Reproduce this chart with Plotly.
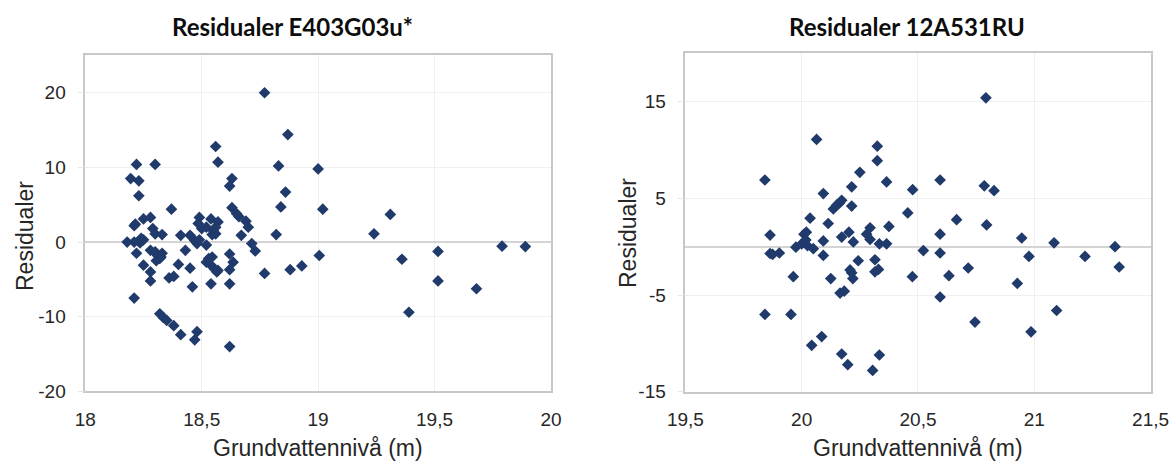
import plotly.graph_objects as go

# ---- Left chart data: Residualer E403G03u* ----
left_title = "Residualer E403G03u*"
left_x = [18.18, 18.195, 18.23, 18.22, 18.30, 18.23, 18.21, 18.215, 18.25, 18.28,
          18.29, 18.30, 18.33, 18.24, 18.25, 18.21, 18.235, 18.22, 18.28, 18.30,
          18.31, 18.32, 18.305, 18.25, 18.28, 18.28, 18.21, 18.32, 18.335, 18.35,
          18.38, 18.41, 18.48, 18.47, 18.62, 18.37, 18.36, 18.38, 18.40, 18.43,
          18.45, 18.46, 18.54, 18.62, 18.41, 18.45, 18.47, 18.48, 18.49, 18.49,
          18.485, 18.50, 18.52, 18.52, 18.54, 18.57, 18.56, 18.56, 18.52, 18.53,
          18.54, 18.555, 18.565, 18.62, 18.635, 18.62, 18.67, 18.69, 18.70, 18.715,
          18.73, 18.77, 18.82, 18.56, 18.57, 18.63, 18.62, 18.63, 18.65, 18.66,
          18.77, 18.87, 18.83, 19.00, 18.86, 18.84, 19.02, 19.31, 19.24, 19.005,
          19.36, 18.88, 18.93, 19.39, 19.515, 19.515, 19.68, 19.79, 19.89, 18.545,
          18.55, 18.545, 18.57, 18.33, 18.325]
left_y = [0.0, 8.5, 8.2, 10.4, 10.4, 6.2, 2.2, 2.4, 3.1, 3.3,
          1.8, 1.1, 1.0, 0.5, 0.3, 0.0, -0.1, -1.5, -1.1, -1.3,
          -1.8, -2.2, -2.5, -3.1, -4.0, -5.2, -7.5, -9.6, -10.1, -10.5,
          -11.2, -12.4, -12.0, -13.1, -14.0, 4.4, -4.8, -4.6, -3.0, -1.1,
          -3.5, -6.0, -5.6, -5.6, 0.9, 0.9, 0.2, -0.2, 0.3, 3.3,
          2.5, 1.8, 2.0, -0.4, 3.1, 2.7, 2.0, 1.1, -2.7, -2.2,
          -3.1, -3.6, -4.0, -1.6, -2.7, -3.7, 0.9, 2.8, 2.0, -0.2,
          -1.2, -4.2, 1.0, 12.8, 10.7, 8.5, 7.5, 4.6, 3.8, 3.4,
          20.0, 14.4, 10.2, 9.8, 6.7, 4.7, 4.4, 3.7, 1.1, -1.8,
          -2.3, -3.7, -3.2, -9.4, -1.25, -5.2, -6.25, -0.55, -0.6, -2.0,
          1.5, 1.0, -3.8, -1.5, -2.0]
left_xticks = [18, 18.5, 19, 19.5, 20]
left_xticktext = ["18", "18,5", "19", "19,5", "20"]
left_yticks = [-20, -10, 0, 10, 20]
left_yticktext = ["-20", "-10", "0", "10", "20"]

# ---- Right chart data: Residualer 12A531RU ----
right_title = "Residualer 12A531RU"
right_x = [19.842, 19.864, 19.864, 19.875, 19.904, 19.842, 19.954, 19.964, 19.975, 20.0,
           20.01, 20.018, 20.025, 20.02, 20.036, 20.05, 20.043, 20.064, 20.086, 20.093,
           20.093, 20.093, 20.114, 20.125, 20.136, 20.15, 20.162, 20.172, 20.172, 20.165,
           20.183, 20.172, 20.198, 20.203, 20.215, 20.215, 20.222, 20.243, 20.208, 20.215,
           20.22, 20.25, 20.279, 20.294, 20.294, 20.305, 20.315, 20.315, 20.33, 20.325,
           20.325, 20.334, 20.334, 20.365, 20.365, 20.375, 20.456, 20.477, 20.476, 20.523,
           20.595, 20.595, 20.595, 20.595, 20.633, 20.666, 20.716, 20.745, 20.785, 20.792,
           20.795, 20.827, 20.927, 20.946, 20.977, 20.986, 21.085, 21.096, 21.218, 21.347,
           21.365]
right_y = [6.9, 1.2, -0.7, -0.8, -0.65, -7.0, -7.0, -3.1, -0.05, 0.3,
           1.3, 0.7, 0.1, 1.5, 2.95, -0.2, -10.2, 11.1, -9.3, 5.5,
           0.6, -0.9, 2.4, -3.3, 3.9, 4.3, 4.5, 4.8, 1.0, -4.8,
           -4.6, -11.1, -12.2, 1.5, 6.2, 4.2, 0.5, -1.45, -2.4, -2.7,
           -3.3, 7.7, 1.3, 0.75, 1.95, -12.8, -1.35, -2.6, -2.35, 10.4,
           8.9, 0.3, -11.2, 6.7, 0.3, 2.1, 3.5, 5.9, -3.1, -0.4,
           6.9, 1.3, -0.65, -5.2, -3.0, 2.8, -2.2, -7.8, 6.3, 15.4,
           2.25, 5.8, -3.8, 0.9, -1.0, -8.8, 0.4, -6.6, -1.0, 0.0,
           -2.1]
right_xticks = [19.5, 20, 20.5, 21, 21.5]
right_xticktext = ["19,5", "20", "20,5", "21", "21,5"]
right_yticks = [-15, -5, 5, 15]
right_yticktext = ["-15", "-5", "5", "15"]

x_title = "Grundvattennivå (m)"
y_title = "Residualer"

MARKER_COLOR = "#1F3A6B"
TICK_FONT = dict(family="Liberation Sans, Arial, sans-serif", size=19, color="#262626")
AXT_FONT = dict(family="Liberation Sans, Arial, sans-serif", size=23, color="#262626")
TITLE_FONT = dict(family="Lato, Open Sans, sans-serif", size=24, color="#0d0d0d")

fig = go.Figure()
fig.add_trace(go.Scatter(x=left_x, y=left_y, mode="markers", xaxis="x", yaxis="y",
                         marker=dict(symbol="diamond", size=9, color=MARKER_COLOR, line=dict(width=0)),
                         showlegend=False, hoverinfo="x+y"))
fig.add_trace(go.Scatter(x=right_x, y=right_y, mode="markers", xaxis="x2", yaxis="y2",
                         marker=dict(symbol="diamond", size=9, color=MARKER_COLOR, line=dict(width=0)),
                         showlegend=False, hoverinfo="x+y"))

common_x = dict(showline=True, linecolor="#c8c8c8", linewidth=1.5, mirror=True,
                showgrid=True, gridcolor="#efefef", gridwidth=1, zeroline=False,
                ticks="", tickfont=TICK_FONT, ticklabelstandoff=10, fixedrange=True,
                automargin=False)
common_y = dict(showline=True, linecolor="#c8c8c8", linewidth=1.5, mirror=True,
                showgrid=True, gridcolor="#efefef", gridwidth=1,
                zeroline=True, zerolinecolor="#d4d4d4", zerolinewidth=1.5,
                ticks="outside", ticklen=6, tickcolor="#e6e6e6",
                tickfont=TICK_FONT, ticklabelstandoff=8, fixedrange=True,
                automargin=False)

L_X0, L_X1 = 0.0727, 0.4697
R_X0, R_X1 = 0.5843, 0.9809

fig.update_layout(
    width=1173, height=461,
    margin=dict(l=0, r=0, t=0, b=0, autoexpand=False),
    paper_bgcolor="white", plot_bgcolor="white",
    xaxis=dict(domain=[L_X0, L_X1], range=[18, 20], tickvals=left_xticks,
               ticktext=left_xticktext, anchor="y", **common_x),
    yaxis=dict(domain=[0.1510, 0.8798], range=[-20, 25], tickvals=left_yticks,
               ticktext=left_yticktext, anchor="x", **common_y),
    xaxis2=dict(domain=[R_X0, R_X1], range=[19.5, 21.5], tickvals=right_xticks,
                ticktext=right_xticktext, anchor="y2", **common_x),
    yaxis2=dict(domain=[0.1503, 0.8842], range=[-15, 20], tickvals=right_yticks,
                ticktext=right_yticktext, anchor="x2", **common_y),
)

annotations = [
    dict(text="<b>%s</b>" % left_title, x=292 / 1173, y=1 - 27 / 461, font=TITLE_FONT),
    dict(text="<b>%s</b>" % right_title, x=907 / 1173, y=1 - 26 / 461, font=TITLE_FONT),
    dict(text=x_title, x=(L_X0 + L_X1) / 2, y=1 - 448 / 461, font=AXT_FONT),
    dict(text=x_title, x=(R_X0 + R_X1) / 2, y=1 - 448 / 461, font=AXT_FONT),
    dict(text=y_title, x=25 / 1173, y=1 - 236 / 461, textangle=-90, font=AXT_FONT),
    dict(text=y_title, x=628 / 1173, y=1 - 233 / 461, textangle=-90, font=AXT_FONT),
]
for a in annotations:
    a.update(xref="paper", yref="paper", showarrow=False, xanchor="center", yanchor="middle")
fig.update_layout(annotations=annotations)

fig.write_html("out.html", config={"displayModeBar": False},
               post_script="document.body.style.margin='0';document.body.style.overflow='hidden';")
